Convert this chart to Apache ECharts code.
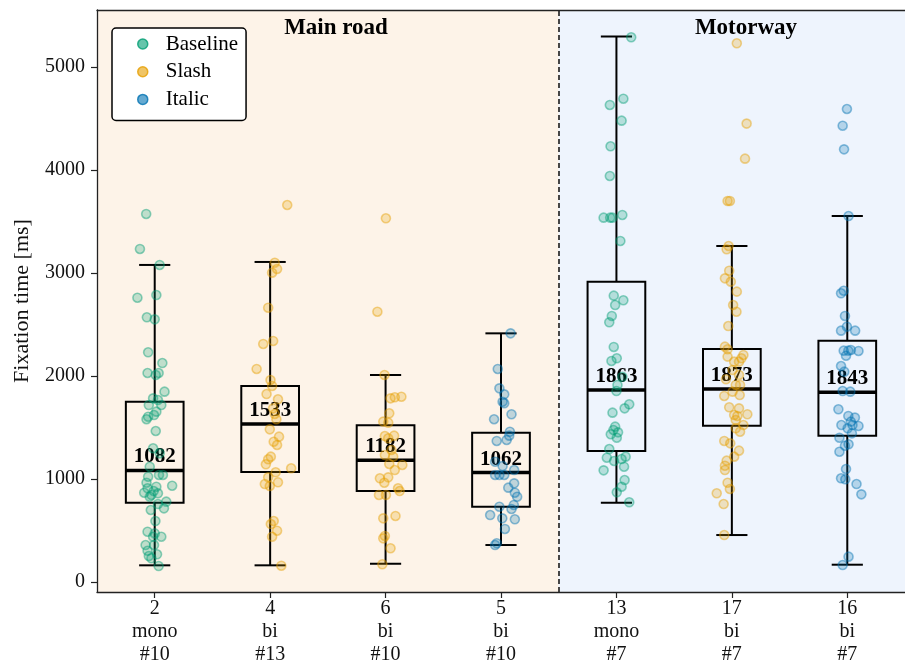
<!DOCTYPE html>
<html>
<head>
<meta charset="utf-8">
<script src="https://cdn.jsdelivr.net/npm/echarts@6/dist/echarts.min.js"></script>
<style>
  html, body { margin: 0; padding: 0; background: #fff; }
  #chart { width: 905px; height: 668px; }
</style>
</head>
<body>
<div id="chart"></div>
<script>
// category labels (three lines under each box)
const catIds = ['2', '4', '6', '5', '13', '17', '16'];
const catTypes = ['mono', 'bi', 'bi', 'bi', 'mono', 'bi', 'bi'];
const catCounts = ['#10', '#13', '#10', '#10', '#7', '#7', '#7'];
const catStyle = ['Baseline', 'Slash', 'Slash', 'Italic', 'Baseline', 'Slash', 'Italic'];
const yTicks = [0, 1000, 2000, 3000, 4000, 5000];

// box statistics
const whiskerLow = [162, 162, 178, 359, 770, 456, 168];
const q1 = [770, 1068, 883, 731, 1272, 1518, 1421];
const medians = [1082, 1533, 1182, 1062, 1863, 1873, 1843];
const q3 = [1750, 1903, 1521, 1450, 2916, 2262, 2343];
const whiskerHigh = [3078, 3107, 2010, 2414, 5295, 3262, 3553];

// raw fixation times per box, with the horizontal jitter
const times0 = [3573, 3233, 3078, 2760, 2786, 2570, 2550, 2230, 2126, 2029, 2029, 2010, 1848, 1783, 1767, 1718, 1718, 1654, 1605, 1621, 1580, 1466, 1298, 1249, 1119, 1022, 1039, 1039, 964, 935, 910, 925, 883, 867, 845, 861, 828, 780, 757, 715, 699, 592, 488, 472, 440, 440, 359, 359, 304, 252, 269, 230, 155];
const jitter0 = [-0.074, -0.128, 0.043, -0.15, 0.014, -0.068, 0, -0.057, 0.066, -0.062, 0.034, 0.009, 0.085, -0.014, 0.028, -0.051, 0.057, 0.014, -0.057, -0.006, -0.071, 0.009, -0.014, 0.043, -0.043, -0.057, 0.037, 0.071, -0.071, 0.151, -0.062, 0.014, -0.009, -0.091, -0.029, 0.028, -0.043, 0.1, 0.028, 0.08, -0.034, 0.006, -0.062, 0, -0.014, 0.057, -0.079, -0.006, -0.062, -0.051, 0.02, -0.029, 0.034];

const times1 = [3660, 3100, 3039, 3003, 2663, 2311, 2340, 2068, 1961, 1903, 1825, 1774, 1686, 1631, 1580, 1482, 1411, 1362, 1330, 1217, 1191, 1143, 1104, 1065, 1016, 968, 951, 932, 592, 563, 498, 440, 158];
const jitter1 = [0.148, 0.04, 0.06, 0.017, -0.017, -0.06, 0.026, -0.117, 0.003, 0.017, -0.031, 0.068, 0.026, 0.04, 0.054, -0.003, 0.077, 0.031, 0.06, 0.006, -0.017, -0.037, 0.182, 0.048, -0.017, 0.068, -0.046, -0.003, 0.031, 0.006, 0.06, 0.017, 0.097];

const times2 = [3531, 2624, 2010, 1783, 1793, 1799, 1638, 1557, 1547, 1417, 1421, 1395, 1282, 1233, 1217, 1146, 1136, 1087, 1007, 1016, 964, 910, 883, 845, 845, 618, 641, 447, 424, 327, 172];
const jitter2 = [0.003, -0.071, -0.009, 0.043, 0.08, 0.137, 0.032, -0.02, 0.023, -0.006, 0.074, 0.023, 0.051, -0.006, 0.066, 0.032, 0.145, 0.08, -0.049, 0.023, -0.011, 0.108, 0.122, -0.057, 0.003, -0.02, 0.086, -0.006, -0.02, 0.043, -0.028];

const times3 = [2414, 2068, 1880, 1822, 1750, 1735, 1628, 1580, 1459, 1421, 1369, 1379, 1168, 1126, 1087, 1039, 1039, 1039, 958, 916, 867, 828, 748, 731, 709, 650, 618, 609, 515, 376, 359];
const jitter3 = [0.083, -0.028, -0.014, 0.028, 0.014, 0.028, 0.091, -0.06, 0.077, 0.071, -0.037, 0.049, -0.051, 0.014, 0.114, -0.051, -0.014, 0.028, 0.114, 0.063, 0.12, 0.14, 0.111, -0.014, 0.091, -0.094, 0.011, 0.12, 0.034, -0.037, -0.051];

const times4 = [5288, 4692, 4631, 4479, 4230, 3942, 3537, 3537, 3537, 3563, 3311, 2780, 2735, 2689, 2583, 2521, 2282, 2172, 2146, 1993, 1913, 1854, 1725, 1686, 1644, 1508, 1476, 1453, 1434, 1401, 1291, 1207, 1175, 1194, 1217, 1119, 1084, 990, 925, 871, 774];
const jitter4 = [0.128, 0.06, -0.057, 0.045, -0.051, -0.057, -0.111, -0.054, -0.034, 0.051, 0.034, -0.023, 0.06, -0.011, -0.04, -0.062, -0.023, 0.003, -0.043, 0.051, 0.009, 0, 0.111, 0.071, -0.034, -0.011, -0.026, 0.014, -0.049, 0.003, -0.062, -0.083, -0.02, 0.045, 0.08, 0.066, -0.111, 0.071, 0.045, 0.003, 0.111];

const times5 = [5230, 4450, 4110, 3699, 3699, 3262, 3230, 3022, 2948, 2916, 2819, 2689, 2624, 2485, 2285, 2259, 2172, 2204, 2188, 2139, 2139, 2058, 2010, 1968, 1913, 1913, 1806, 1848, 1815, 1696, 1686, 1628, 1621, 1612, 1573, 1524, 1459, 1492, 1369, 1346, 1275, 1217, 1178, 1129, 1087, 964, 903, 861, 757, 456];
const jitter5 = [0.043, 0.128, 0.114, -0.037, -0.017, -0.028, -0.045, -0.023, -0.06, -0.009, 0.043, 0.011, 0.04, -0.031, -0.06, -0.037, 0.083, 0.1, -0.037, 0.02, 0.062, 0.006, 0.062, -0.051, 0.034, 0.071, -0.066, 0.006, 0.068, -0.023, 0.062, 0.134, 0.02, 0.048, 0.034, 0.1, 0.071, 0.034, -0.066, -0.014, 0.062, 0.02, -0.045, -0.06, -0.06, -0.037, -0.017, -0.131, -0.071, -0.066];

const times6 = [4592, 4430, 4200, 3553, 2828, 2803, 2583, 2479, 2440, 2440, 2246, 2246, 2252, 2243, 2197, 2097, 2042, 1854, 1848, 1677, 1612, 1596, 1557, 1524, 1524, 1515, 1492, 1443, 1401, 1323, 1337, 1265, 1097, 1007, 997, 951, 851, 246, 165];
const jitter6 = [-0.003, -0.04, -0.028, 0.011, -0.031, -0.054, -0.02, -0.003, -0.054, 0.068, -0.031, 0.009, 0.031, 0.097, -0.011, -0.054, -0.026, -0.04, 0.026, -0.077, 0.009, 0.066, 0.031, -0.051, 0.045, 0.097, 0.003, 0.04, -0.068, -0.02, 0.011, -0.068, -0.011, -0.054, -0.017, 0.08, 0.122, 0.011, -0.04];

const allTimes = [times0, times1, times2, times3, times4, times5, times6];
const allJitter = [jitter0, jitter1, jitter2, jitter3, jitter4, jitter5, jitter6];

const styleNames = ['Baseline', 'Slash', 'Italic'];
const styleColors = { Baseline: '#009E73', Slash: '#E69F00', Italic: '#0072B2' };
const FONT = '"Liberation Serif", "DejaVu Serif", serif';

const chart = echarts.init(document.getElementById('chart'), null, { renderer: 'canvas' });

const boxData = catIds.map((id, i) => [i, whiskerLow[i], q1[i], medians[i], q3[i], whiskerHigh[i]]);

const pointSeries = styleNames.map((name) => {
  const pts = [];
  allTimes.forEach((times, i) => {
    if (catStyle[i] !== name) return;
    times.forEach((t, k) => pts.push([i + allJitter[i][k], t]));
  });
  return {
    name: name,
    type: 'scatter',
    z: 4,
    symbol: 'circle',
    symbolSize: 9,
    itemStyle: {
      color: echarts.color.modifyAlpha(styleColors[name], 0.3),
      borderColor: echarts.color.modifyAlpha(styleColors[name], 0.55),
      borderWidth: 1.6,
    },
    data: pts,
  };
});

function renderBox(params, api) {
  const x = api.value(0);
  const lo = api.coord([x, api.value(1)]);
  const b1 = api.coord([x, api.value(2)]);
  const med = api.coord([x, api.value(3)]);
  const b3 = api.coord([x, api.value(4)]);
  const hi = api.coord([x, api.value(5)]);
  const w = api.size([0.5, 0])[0];
  const cap = api.size([0.27, 0])[0];
  const cx = med[0];
  const line = { stroke: '#000', lineWidth: 2, fill: null };
  return {
    type: 'group',
    children: [
      { type: 'line', shape: { x1: cx, y1: b3[1], x2: cx, y2: hi[1] }, style: line },
      { type: 'line', shape: { x1: cx, y1: b1[1], x2: cx, y2: lo[1] }, style: line },
      { type: 'line', shape: { x1: cx - cap / 2, y1: hi[1], x2: cx + cap / 2, y2: hi[1] }, style: line },
      { type: 'line', shape: { x1: cx - cap / 2, y1: lo[1], x2: cx + cap / 2, y2: lo[1] }, style: line },
      { type: 'rect', shape: { x: cx - w / 2, y: b3[1], width: w, height: b1[1] - b3[1] }, style: { stroke: '#000', lineWidth: 2, fill: null } },
      { type: 'line', shape: { x1: cx - w / 2, y1: med[1], x2: cx + w / 2, y2: med[1] }, style: { stroke: '#000', lineWidth: 3.5 } },
      {
        type: 'text',
        z2: 10,
        style: {
          text: String(api.value(3)),
          x: cx,
          y: med[1] - 3,
          align: 'center',
          verticalAlign: 'bottom',
          font: 'bold 21px ' + FONT,
          fill: '#000',
        },
      },
    ],
  };
}

const option = {
  animation: false,
  backgroundColor: '#fff',
  textStyle: { fontFamily: FONT },
  grid: { left: 97, right: -11, top: 10, bottom: 76, containLabel: false },
  title: [
    { text: 'Main road', left: 331, top: 12, textAlign: 'center', textStyle: { fontFamily: FONT, fontSize: 23, fontWeight: 'bold', color: '#000' } },
    { text: 'Motorway', left: 741, top: 12, textAlign: 'center', textStyle: { fontFamily: FONT, fontSize: 23, fontWeight: 'bold', color: '#000' } },
  ],
  legend: {
    orient: 'vertical',
    left: 112,
    top: 28,
    padding: [5, 8, 10, 25],
    itemWidth: 10,
    itemHeight: 10,
    itemGap: 5.7,
    backgroundColor: '#fff',
    borderColor: '#000',
    borderWidth: 1.5,
    borderRadius: 4,
    textStyle: { fontFamily: FONT, fontSize: 21, lineHeight: 22, color: '#000', padding: [0, 0, 0, 13] },
    data: styleNames.map((n) => ({
      name: n,
      icon: 'circle',
      itemStyle: { color: echarts.color.modifyAlpha(styleColors[n], 0.75), borderColor: styleColors[n], borderWidth: 1.5 },
    })),
  },
  xAxis: [
    {
      type: 'value',
      min: -0.5,
      max: 6.5,
      z: 10,
      axisLine: { show: true, onZero: false, lineStyle: { color: '#222', width: 1.3 } },
      axisTick: { show: true, length: 6, customValues: catIds.map((c, i) => i), lineStyle: { color: '#222', width: 1.2 } },
      splitLine: { show: false },
      axisLabel: {
        customValues: catIds.map((c, i) => i),
        formatter: (v) => catIds[v] + '\n' + catTypes[v] + '\n' + catCounts[v],
        fontFamily: FONT,
        fontSize: 20,
        lineHeight: 23,
        color: '#111',
        margin: 5,
      },
    },
    {
      type: 'value',
      position: 'top',
      min: -0.5,
      max: 6.5,
      z: 10,
      axisLine: { show: true, onZero: false, lineStyle: { color: '#222', width: 1.3 } },
      axisTick: { show: false },
      axisLabel: { show: false },
      splitLine: { show: false },
    },
  ],
  yAxis: {
    type: 'value',
    min: -97,
    max: 5553,
    z: 10,
    name: 'Fixation time [ms]',
    nameLocation: 'middle',
    nameRotate: 90,
    nameGap: 64,
    nameTextStyle: { fontFamily: FONT, fontSize: 22, color: '#111' },
    axisLine: { show: true, onZero: false, lineStyle: { color: '#222', width: 1.3 } },
    axisTick: { show: true, length: 6, customValues: yTicks, lineStyle: { color: '#222', width: 1.2 } },
    axisLabel: { customValues: yTicks, formatter: (v) => String(v), fontFamily: FONT, fontSize: 20, color: '#111', margin: 12 },
    splitLine: { show: false },
  },
  series: [
    {
      name: 'background',
      type: 'line',
      z: 1,
      data: [],
      silent: true,
      markArea: {
        silent: true,
        data: [
          [{ xAxis: -0.5, itemStyle: { color: '#fdf3e8' } }, { xAxis: 3.5 }],
          [{ xAxis: 3.5, itemStyle: { color: '#eef4fd' } }, { xAxis: 6.5 }],
        ],
      },
      markLine: {
        silent: true,
        symbol: ['none', 'none'],
        label: { show: false },
        lineStyle: { color: '#333', width: 1.8, type: [5, 3] },
        data: [{ xAxis: 3.5 }],
      },
    },
    {
      name: 'boxes',
      type: 'custom',
      z: 3,
      renderItem: renderBox,
      encode: { x: 0, y: [1, 2, 3, 4, 5] },
      data: boxData,
    },
    ...pointSeries,
  ],
};

chart.setOption(option);
</script>
</body>
</html>
